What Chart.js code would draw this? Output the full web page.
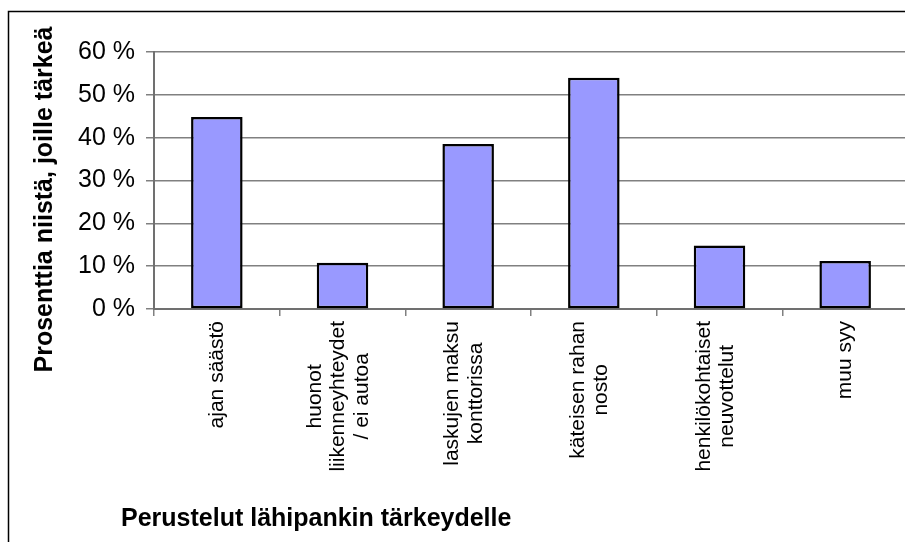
<!DOCTYPE html>
<html>
<head>
<meta charset="utf-8">
<script src="https://cdn.jsdelivr.net/npm/chart.js@4.4.1/dist/chart.umd.min.js"></script>
<style>
  html, body { margin:0; padding:0; background:#fff; overflow:hidden; }
  #wrap { position:absolute; left:0; top:0; width:908px; height:542px; }
</style>
</head>
<body>
<div id="wrap"><canvas id="myChart" width="908" height="542"></canvas></div>
<script>
// categorias (lineas separadas)
var perustelut = [
  ['ajan säästö'],
  ['huonot', 'liikenneyhteydet', '/ ei autoa'],
  ['laskujen maksu', 'konttorissa'],
  ['käteisen rahan', 'nosto'],
  ['henkilökohtaiset', 'neuvottelut'],
  ['muu syy']
];
var prosentit = [44.8, 10.8, 38.5, 54.0, 14.8, 11.2];
var asteikko = [0, 10, 20, 30, 40, 50, 60];
var yOtsikko = 'Prosenttia niistä, joille tärkeä';
var xOtsikko = 'Perustelut lähipankin tärkeydelle';

var fontti = "'Liberation Sans', Arial, sans-serif";

// etiquetas, titulos y marco dibujados a mano
var omaPiirto = {
  id: 'omaPiirto',
  beforeDraw: (chart)=>{
    var ctx = chart.ctx;
    ctx.save();
    ctx.fillStyle = '#fff';
    ctx.fillRect(0, 0, chart.width, chart.height);
    ctx.strokeStyle = '#000';
    ctx.lineWidth = 1.5;
    ctx.beginPath();
    ctx.moveTo(8.5, chart.height + 5);
    ctx.lineTo(8.5, 11.5);
    ctx.lineTo(chart.width + 5, 11.5);
    ctx.stroke();
    ctx.restore();
  },
  afterDraw: (chart)=>{
    var ctx = chart.ctx;
    var xs = chart.scales.x;
    var area = chart.chartArea;
    ctx.save();
    ctx.fillStyle = '#000';
    // x labels, rotated and centered
    ctx.font = '21px ' + fontti;
    ctx.textAlign = 'center';
    ctx.textBaseline = 'middle';
    var rivi = 23.5;
    perustelut.forEach((lines, i)=>{
      var x = xs.getPixelForTick(i);
      if (lines.length > 1) x -= 4;
      var pituus = Math.max.apply(null, lines.map(l=>ctx.measureText(l).width));
      ctx.save();
      ctx.translate(x, area.bottom + 12);
      ctx.rotate(-Math.PI / 2);
      lines.forEach((l, j)=>{
        ctx.fillText(l, -pituus / 2, (j - (lines.length - 1) / 2) * rivi);
      });
      ctx.restore();
    });
    // y title
    ctx.font = 'bold 25px ' + fontti;
    ctx.save();
    ctx.translate(area.left - 109, (area.top + area.bottom) / 2 + 19);
    ctx.rotate(-Math.PI / 2);
    ctx.fillText(yOtsikko, 0, 0);
    ctx.restore();
    // x title
    ctx.textAlign = 'left';
    ctx.fillText(xOtsikko, area.left - 33, 519);
    ctx.restore();
  }
};

var ctx = document.getElementById('myChart').getContext('2d');
var chart = new Chart(ctx, {
  type: 'bar',
  data: {
    labels: perustelut.map(l=>l.join(' ')),
    datasets: [{
      data: prosentit,
      backgroundColor: '#9999FF',
      borderColor: '#000',
      borderWidth: 2.5,
      borderSkipped: false,
      barPercentage: 0.41,
      categoryPercentage: 1
    }]
  },
  options: {
    responsive: false,
    animation: false,
    layout: { padding: { top: 52, left: 0, right: 0, bottom: 0 } },
    plugins: { legend: { display: false }, tooltip: { enabled: false } },
    scales: {
      x: {
        offset: true,
        afterFit: (s)=>{ s.height = 233; },
        grid: { display: true, offset: true, drawOnChartArea: false, drawTicks: true, tickLength: 7, color: '#808080', lineWidth: 1.5 },
        border: { color: '#707070', width: 2 },
        ticks: { display: false }
      },
      y: {
        min: asteikko[0],
        max: asteikko[asteikko.length - 1],
        afterFit: (s)=>{ s.width = 154; },
        afterBuildTicks: (s)=>{ s.ticks = asteikko.map(v=>({ value: v })); },
        grid: { color: '#808080', lineWidth: 1.5, tickLength: 8 },
        border: { color: '#707070', width: 2 },
        ticks: {
          color: '#000',
          padding: 11,
          font: { family: fontti, size: 25 },
          callback: (v)=>v + ' %'
        }
      }
    }
  },
  plugins: [omaPiirto]
});
</script>
</body>
</html>
